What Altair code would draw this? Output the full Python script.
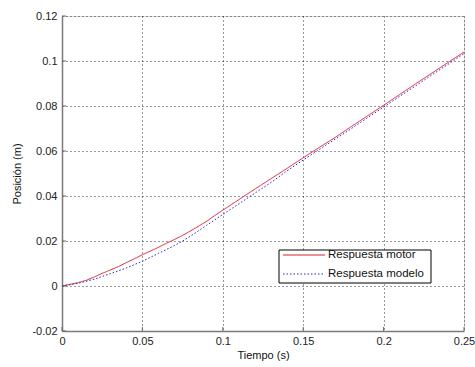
import altair as alt
import pandas as pd

# ---- data ----
t_motor = [0, 0.005, 0.01, 0.015, 0.02, 0.025, 0.03, 0.035, 0.04, 0.045, 0.05,
           0.055, 0.06, 0.065, 0.07, 0.075, 0.08, 0.085, 0.09, 0.095, 0.1,
           0.11, 0.12, 0.13, 0.14, 0.15, 0.16, 0.17, 0.18, 0.19, 0.2,
           0.21, 0.22, 0.23, 0.24, 0.25]
motor = [0, 0.0007, 0.0015, 0.0025, 0.0040, 0.0056, 0.0071, 0.0086, 0.0104, 0.0121, 0.0139,
         0.0155, 0.0172, 0.0190, 0.0207, 0.0225, 0.0245, 0.0266, 0.0288, 0.0313, 0.0337,
         0.0384, 0.0431, 0.0477, 0.0523, 0.0570, 0.0616, 0.0661, 0.0709, 0.0756, 0.0803,
         0.0851, 0.0899, 0.0946, 0.0993, 0.1040]

t_modelo = [0, 0.01, 0.02, 0.03, 0.04, 0.05, 0.06, 0.07, 0.075, 0.08, 0.09, 0.1,
            0.11, 0.12, 0.13, 0.14, 0.15, 0.16, 0.17, 0.18, 0.19, 0.2,
            0.21, 0.22, 0.23, 0.24, 0.25]
modelo = [0, 0.0012, 0.0030, 0.0055, 0.0080, 0.0110, 0.0145, 0.0180, 0.0200, 0.0222, 0.0270, 0.0318,
          0.0365, 0.0413, 0.0460, 0.0512, 0.0560, 0.0607, 0.0653, 0.0700, 0.0748, 0.0795,
          0.0843, 0.0890, 0.0938, 0.0985, 0.1033]

series = ["Respuesta motor", "Respuesta modelo"]
colors = ["#e0202c", "#2626c8"]
dashes = [[1, 0], [1.5, 2]]
x_ticks = [0, 0.05, 0.1, 0.15, 0.2, 0.25]
y_ticks = [-0.02, 0, 0.02, 0.04, 0.06, 0.08, 0.1, 0.12]

df = pd.concat([
    pd.DataFrame({"t": t_motor, "y": motor, "serie": series[0]}),
    pd.DataFrame({"t": t_modelo, "y": modelo, "serie": series[1]}),
])
xt = pd.DataFrame({"v": x_ticks})
yt = pd.DataFrame({"v": y_ticks})

W, H = 402, 315
FONT = "Liberation Sans"
xs = alt.Scale(domain=[0, 0.25], nice=False, zero=False)
ys = alt.Scale(domain=[-0.02, 0.12], nice=False, zero=False)
lab = "datum.value == 0 ? '0' : toString(round(datum.value * 100000) / 100000)"
GRID = dict(grid=True, gridDash=[1, 3], gridColor="#000", gridOpacity=0.8,
            domainColor="#7a7a7a", domainWidth=1.5, ticks=False,
            labelFont=FONT, labelFontSize=11, labelColor="#222", labelFlush=False,
            titleFont=FONT, titleFontSize=11, titleFontWeight="normal", titleColor="#111")

lines = alt.Chart(df).mark_line(strokeWidth=1, clip=True).encode(
    x=alt.X("t:Q", scale=xs, axis=alt.Axis(values=x_ticks, title="Tiempo (s)", labelExpr=lab,
                                           labelPadding=4, titlePadding=3, **GRID)),
    y=alt.Y("y:Q", scale=ys, axis=alt.Axis(values=y_ticks, title="Posición (m)", labelExpr=lab,
                                           labelPadding=5, titlePadding=9, **GRID)),
    color=alt.Color("serie:N", scale=alt.Scale(domain=series, range=colors), legend=None),
    strokeDash=alt.StrokeDash("serie:N", scale=alt.Scale(domain=series, range=dashes), legend=None),
)

xtick = alt.Chart(xt).mark_rule(color="#666", strokeWidth=1).encode(
    x=alt.X("v:Q", scale=xs), y=alt.value(H), y2=alt.value(H - 4))
ytick = alt.Chart(yt).mark_rule(color="#666", strokeWidth=1).encode(
    y=alt.Y("v:Q", scale=ys), x=alt.value(0), x2=alt.value(4))

# ---- legend box (inside plot, lower right) ----
LX, LY, LW, LH = 217, 234, 152, 33
ROW0, ROWH = 5, 19
box = alt.Chart(pd.DataFrame({"a": [0]})).mark_rect(fill="#fff", stroke="#000", strokeWidth=1).encode(
    x=alt.value(LX), x2=alt.value(LX + LW), y=alt.value(LY), y2=alt.value(LY + LH))
leg_layers = [box]
for i, s in enumerate(series):
    yy = LY + ROW0 + i * ROWH
    d = pd.DataFrame({"serie": [s]})
    leg_layers.append(alt.Chart(d).mark_rule(color=colors[i], strokeDash=dashes[i], strokeWidth=1).encode(
        x=alt.value(LX + 4), x2=alt.value(LX + 46), y=alt.value(yy)))
    leg_layers.append(alt.Chart(d).mark_text(align="left", baseline="middle", font=FONT, fontSize=11.5,
                                             color="#111").encode(
        text="serie:N", x=alt.value(LX + 49), y=alt.value(yy)))

chart = alt.layer(lines, xtick, ytick, *leg_layers).properties(
    width=W, height=H,
    autosize=alt.AutoSizeParams(type="none"),
    padding={"left": 62, "top": 16, "right": 11, "bottom": 36},
).configure_view(stroke=None).configure(background="#fff")

chart.save("out.html", embed_options={"renderer": "svg", "actions": False})
